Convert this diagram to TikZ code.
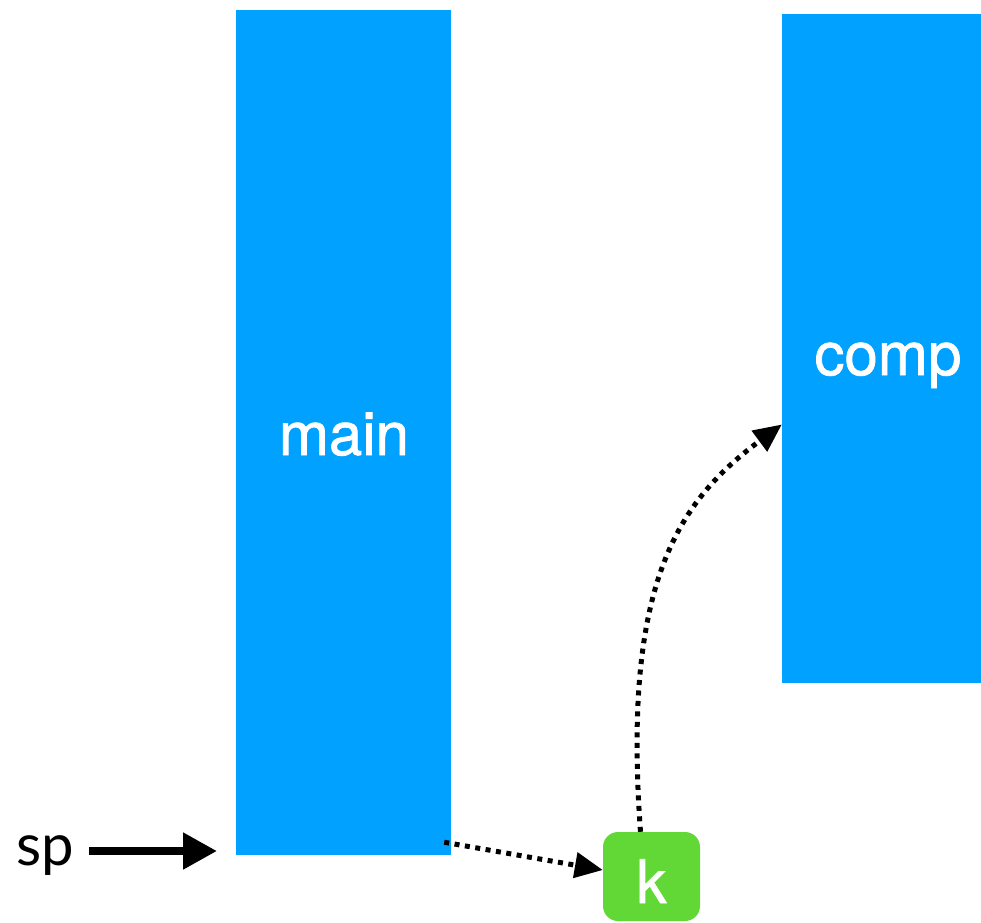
\documentclass[tikz,border=0pt]{standalone}
\usepackage{fontspec}
\setmainfont{TeX Gyre Heros}
\newfontfamily\boxfont{TeX Gyre Heros}[FakeBold=1.2]
\newfontfamily\labelfont{Lato}
\usetikzlibrary{arrows.meta,calc}
\definecolor{stackblue}{RGB}{0,161,255}
\definecolor{framegreen}{RGB}{98,216,54}
\tikzset{
  boxtext/.style={text=white, inner sep=0pt, font=\boxfont\fontsize{60}{62}\selectfont},
  stackbox/.style={fill=stackblue, draw=none, inner sep=0pt},
  framebox/.style={fill=framegreen, draw=none, rounded corners=15pt, inner sep=0pt,
    minimum width=97pt, minimum height=89pt},
  pointer/.style={line width=8pt, -{Triangle[length=34pt,width=35pt]}},
  dotlink/.style={line width=5pt, dash pattern=on 5pt off 5.5pt,
    -{Triangle[length=28pt,width=25pt]}},
}
\begin{document}
\begin{tikzpicture}[x=1pt,y=-1pt]
  \useasboundingbox (0,0) rectangle (981,922);
  \clip (0,0) rectangle (981,922);
  % the two stack regions
  \node[stackbox, minimum width=215pt, minimum height=845pt] (main) at (343.5,432.5) {};
  \node[boxtext, anchor=base] (mainlabel) at (344,455) {main};
  \node[stackbox, minimum width=199pt, minimum height=669pt] (comp) at (881.5,348.5) {};
  \node[boxtext, anchor=base] (complabel) at (888,375) {comp};
  % the frame box
  \node[framebox] (k) at (651.5,876.5) {};
  \node[boxtext, anchor=base] (klabel) at (651.5,903) {k};
  % stack pointer
  \node[font=\labelfont\fontsize{58}{60}\selectfont, inner sep=0pt, anchor=base west] (sp) at (16,865) {sp};
  \coordinate (sptip) at (217,851);
  \coordinate (sptail) at (89,851);
  \draw[pointer] (sptail) -- (sptip);
  % links between the stack and the frame
  \draw[dotlink] ([xshift=-7pt,yshift=13pt]main.south east) -- ([yshift=6.5pt]k.west);
  \draw[dotlink] ([xshift=-11pt]k.north) .. controls (622,580) and (680,500) .. ([yshift=-76pt]comp.west);
\end{tikzpicture}
\end{document}
